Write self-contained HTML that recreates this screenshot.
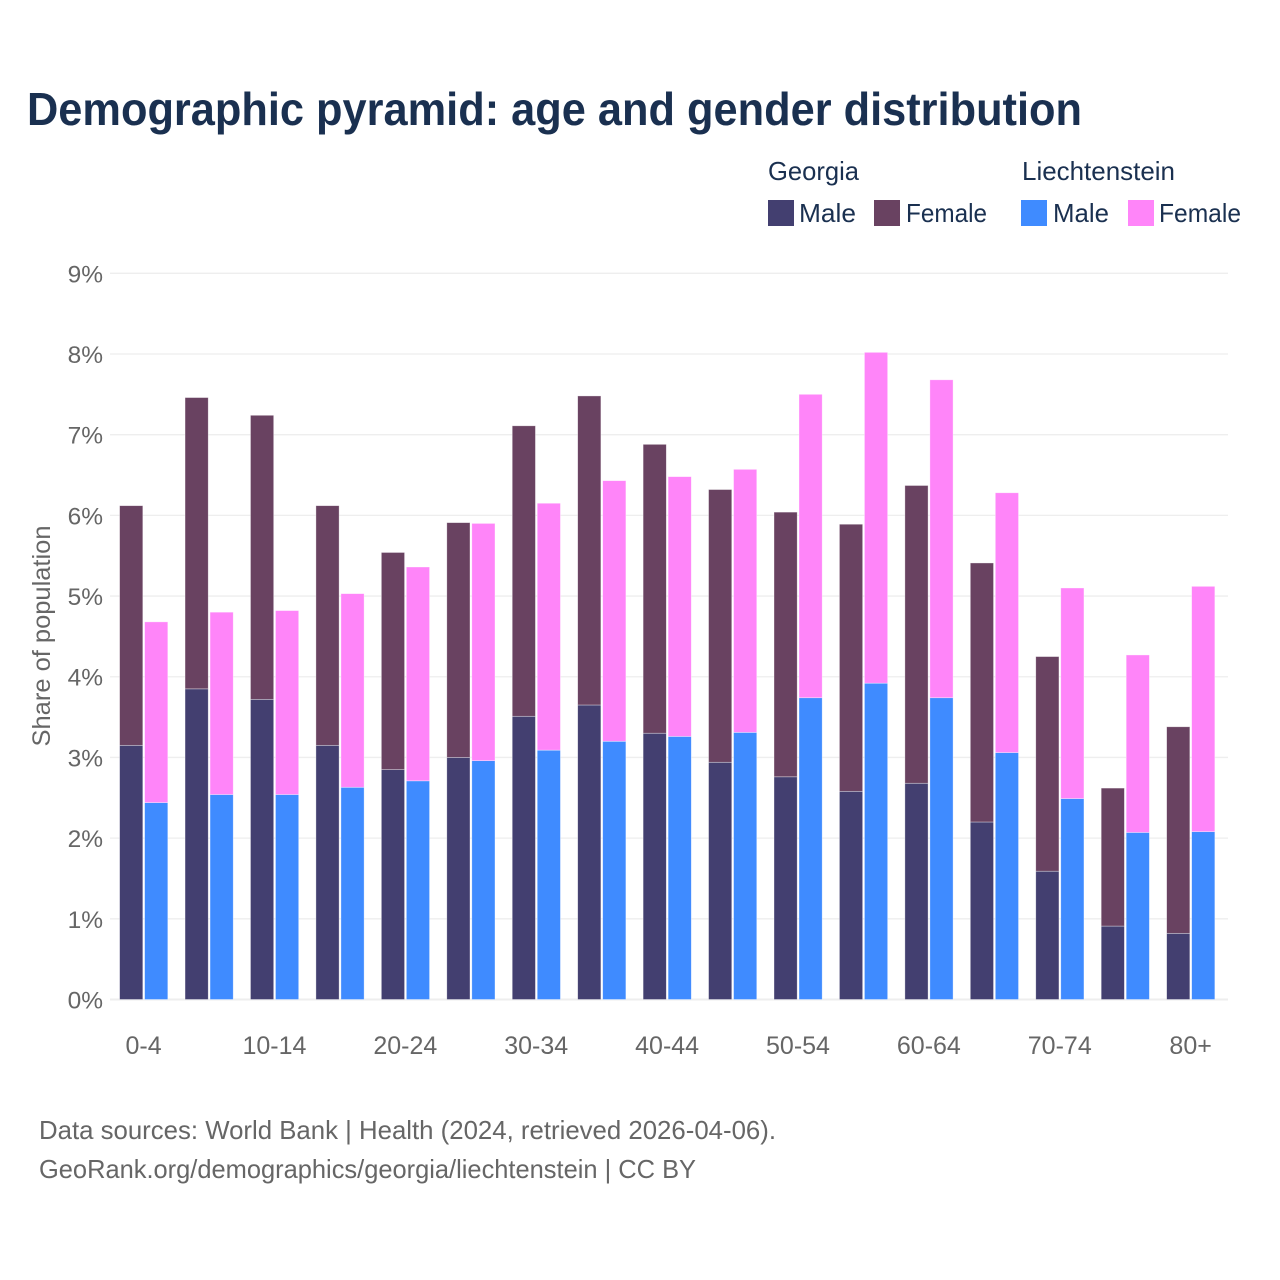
<!DOCTYPE html>
<html lang="en">
<head>
<meta charset="utf-8">
<title>Demographic pyramid</title>
<style>
html,body{margin:0;padding:0;background:#fff;}
svg{display:block;font-family:"Liberation Sans",sans-serif;}
</style>
</head>
<body>
<svg id="chart" xmlns="http://www.w3.org/2000/svg" width="1280" height="1280" viewBox="0 0 1280 1280">
  <rect x="0" y="0" width="1280" height="1280" fill="#ffffff"/>
  <text x="27" y="125" font-size="46" font-weight="700" fill="#1a3050" textLength="1055" lengthAdjust="spacingAndGlyphs">Demographic pyramid: age and gender distribution</text>
  <g font-size="26" fill="#1a3050">
    <text x="768" y="180" textLength="91" lengthAdjust="spacingAndGlyphs">Georgia</text>
    <text x="1022" y="180" textLength="153" lengthAdjust="spacingAndGlyphs">Liechtenstein</text>
    <rect x="768" y="200" width="26" height="26" fill="#433f70"/>
    <text x="799" y="222" textLength="57" lengthAdjust="spacingAndGlyphs">Male</text>
    <rect x="874" y="200" width="26" height="26" fill="#694261"/>
    <text x="906" y="222" textLength="81" lengthAdjust="spacingAndGlyphs">Female</text>
    <rect x="1021" y="200" width="26" height="26" fill="#3f8bff"/>
    <text x="1053" y="222" textLength="56" lengthAdjust="spacingAndGlyphs">Male</text>
    <rect x="1128" y="200" width="26" height="26" fill="#ff85f9"/>
    <text x="1159" y="222" textLength="82" lengthAdjust="spacingAndGlyphs">Female</text>
  </g>
  <g id="grid"></g>
  <g id="yticks"></g>
  <g id="bars"></g>
  <g id="xticks"></g>
  <text transform="translate(50,636) rotate(-90)" text-anchor="middle" font-size="25" fill="#666666" textLength="221" lengthAdjust="spacingAndGlyphs">Share of population</text>
  <text x="39" y="1139" font-size="26" fill="#666666" textLength="737" lengthAdjust="spacingAndGlyphs">Data sources: World Bank | Health (2024, retrieved 2026-04-06).</text>
  <text x="39" y="1178" font-size="26" fill="#666666" textLength="657" lengthAdjust="spacingAndGlyphs">GeoRank.org/demographics/georgia/liechtenstein | CC BY</text>
</svg>
<script>
const categories = ['0-4','5-9','10-14','15-19','20-24','25-29','30-34','35-39','40-44','45-49','50-54','55-59','60-64','65-69','70-74','75-79','80+'];
const georgiaMale = [3.15,3.85,3.72,3.15,2.85,3.00,3.51,3.65,3.30,2.94,2.76,2.58,2.68,2.20,1.59,0.91,0.82];
const georgiaFemale = [2.97,3.61,3.52,2.97,2.69,2.91,3.60,3.83,3.58,3.38,3.28,3.31,3.69,3.21,2.66,1.71,2.56];
const liechtensteinMale = [2.44,2.54,2.54,2.63,2.71,2.96,3.09,3.20,3.26,3.31,3.74,3.92,3.74,3.06,2.49,2.07,2.08];
const liechtensteinFemale = [2.24,2.26,2.28,2.40,2.65,2.94,3.06,3.23,3.22,3.26,3.76,4.10,3.94,3.22,2.61,2.20,3.04];
const yTicks = [0,1,2,3,4,5,6,7,8,9];
const yTickLabels = ['0%','1%','2%','3%','4%','5%','6%','7%','8%','9%'];
const xTickLabels = ['0-4','','10-14','','20-24','','30-34','','40-44','','50-54','','60-64','','70-74','','80+'];

const NS = 'http://www.w3.org/2000/svg';
const yScale = function (v) { return 999.5 - v * 80.69; };
const xScale = function (i) { return 119.6 + i * 65.44; };
const BAR_W = 23.2;
const BAR_GAP = 25;

function make(tag, attrs, parent) {
  const el = document.createElementNS(NS, tag);
  Object.keys(attrs).forEach(function (k) { el.setAttribute(k, attrs[k]); });
  parent.appendChild(el);
  return el;
}

const grid = document.getElementById('grid');
const yG = document.getElementById('yticks');
yTicks.forEach(function (t, i) {
  const line = make('line', {x1: 110, x2: 1228, y1: yScale(t), y2: yScale(t), stroke: '#eeeeee', 'stroke-width': t === 0 ? 2 : 1.3}, grid);
  
  
  const lab = make('text', {x: 103, y: yScale(t) + 9, 'text-anchor': 'end', 'font-size': 24.5, fill: '#666666'}, yG);
  
  
  lab.textContent = yTickLabels[i];
});

const barsG = document.getElementById('bars');
function bar(x, lo, hi, fill) {
  const r = make('rect', {x: x, y: yScale(hi), width: BAR_W, height: yScale(lo) - yScale(hi), fill: fill, stroke: '#ffffff', 'stroke-opacity': 0.5, 'stroke-width': 0.7}, barsG);
  
  
}
categories.forEach(function (c, i) {
  const x0 = xScale(i);
  bar(x0, 0, georgiaMale[i], '#433f70');
  bar(x0, georgiaMale[i], georgiaMale[i] + georgiaFemale[i], '#694261');
  bar(x0 + BAR_GAP, 0, liechtensteinMale[i], '#3f8bff');
  bar(x0 + BAR_GAP, liechtensteinMale[i], liechtensteinMale[i] + liechtensteinFemale[i], '#ff85f9');
});

const xG = document.getElementById('xticks');
xTickLabels.forEach(function (l, i) {
  if (!l) return;
  const t = make('text', {x: xScale(i) + 24, y: 1054, 'text-anchor': 'middle', 'font-size': 25, fill: '#666666'}, xG);
  
  
  t.textContent = l;
});
</script>
</body>
</html>
